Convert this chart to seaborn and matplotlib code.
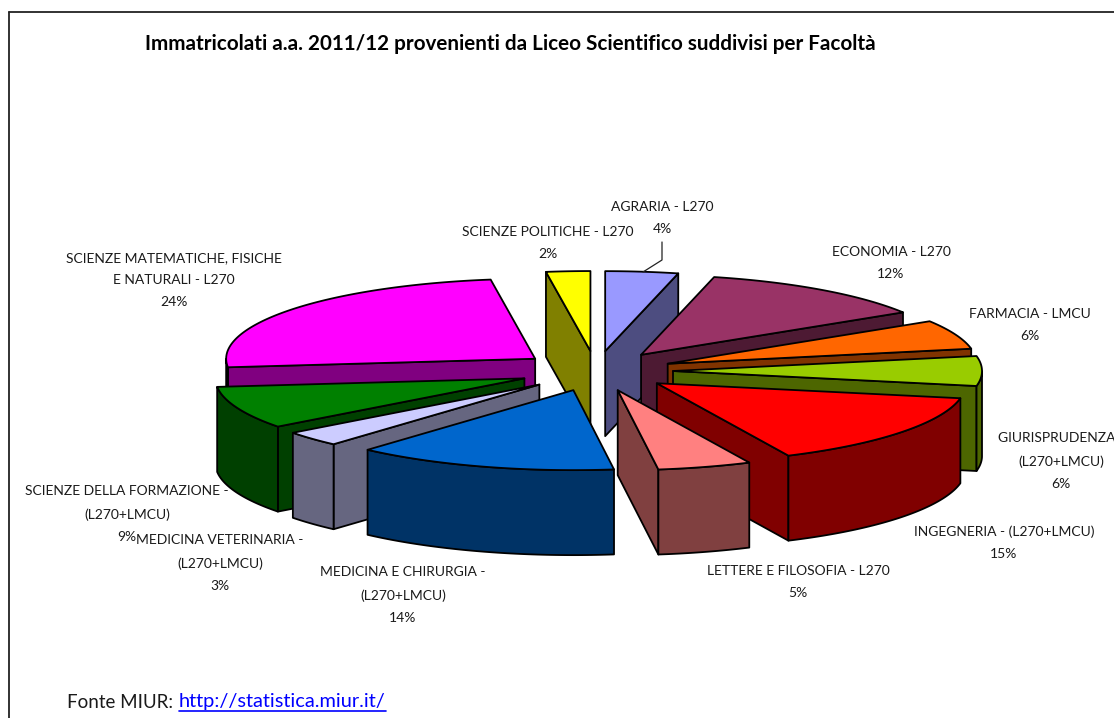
import numpy as np
import matplotlib
matplotlib.use("Agg")
import matplotlib.pyplot as plt
import seaborn as sns

names = ["AGRARIA - L270", "ECONOMIA - L270", "FARMACIA - LMCU",
         "GIURISPRUDENZA -\n(L270+LMCU)", "INGEGNERIA - (L270+LMCU)", "LETTERE E FILOSOFIA - L270",
         "MEDICINA E CHIRURGIA -\n(L270+LMCU)", "MEDICINA VETERINARIA -\n(L270+LMCU)",
         "SCIENZE DELLA FORMAZIONE -\n(L270+LMCU)", "SCIENZE MATEMATICHE, FISICHE\nE NATURALI - L270",
         "SCIENZE POLITICHE - L270"]
shares = [3.8, 12.3, 5.9, 6.0, 15.0, 4.9, 13.7, 3.1, 8.6, 24.4, 2.3]
top_colors = ["#9999FF", "#993366", "#FF6600", "#99CC00", "#FF0000", "#FF8080",
              "#0066CC", "#CCCCFF", "#008000", "#FF00FF", "#FFFF00"]
side_colors = ["#4D4D80", "#4D1A33", "#803300", "#4D6600", "#800000", "#804040",
               "#003366", "#666680", "#004000", "#800080", "#808000"]
label_pos = [(662, 218), (891, 263), (1030, 325), (1061, 461), (1004, 543), (798, 582),
             (403, 595), (220, 563), (127, 514), (174, 280), (548, 243)]

sns.set_theme(style="white")
plt.rcParams["font.family"] = ["Lato", "DejaVu Sans"]

CX, CY = 596, 371
RX, RY = 309, 80
EX, EY = 77, 20
DEPTH = 85
EDGE = dict(edgecolor="black", linewidth=1.3, joinstyle="round")

fig = plt.figure(figsize=(11.14, 7.18), dpi=100, facecolor="white")
ax = fig.add_axes([0, 0, 1, 1])
ax.set_xlim(0, 1114)
ax.set_ylim(718, 0)
ax.axis("off")

total = sum(shares)
ends = np.cumsum(shares) / total * 360.0
starts = np.concatenate([[0.0], ends[:-1]])
mids = (starts + ends) / 2


def pt(deg, ox, oy):
    t = np.radians(deg)
    return ox + RX * np.sin(t), oy - RY * np.cos(t)


for i in np.argsort(-np.cos(np.radians(mids))):
    a, b, m = starts[i], ends[i], mids[i]
    ox = CX + EX * np.sin(np.radians(m))
    oy = CY - EY * np.cos(np.radians(m))
    side, top = side_colors[i], top_colors[i]
    for deg, vis in ((a, -np.sin(np.radians(a))), (b, np.sin(np.radians(b)))):
        if vis > 1e-6:
            x, y = pt(deg, ox, oy)
            ax.fill([ox, x, x, ox], [oy, y, y + DEPTH, oy + DEPTH], facecolor=side, **EDGE)
    lo, hi = max(a, 90), min(b, 270)
    if hi > lo:
        xs, ys = pt(np.linspace(lo, hi, 60), ox, oy)
        ax.fill(np.r_[xs, xs[::-1]], np.r_[ys, ys[::-1] + DEPTH], facecolor=side, **EDGE)
    xs, ys = pt(np.linspace(a, b, 80), ox, oy)
    ax.fill(np.r_[ox, xs], np.r_[oy, ys], facecolor=top, **EDGE)

for name, share, (lx, ly) in zip(names, shares, label_pos):
    ax.text(lx, ly, f"{name}\n{share:.0f}%", ha="center", va="center", fontsize=10,
            color="#1a1a1a", linespacing=2.0, clip_on=True)

ax.plot([662, 662, 643], [242, 260, 272], color="#222222", lw=0.9)

ax.plot([9, 9], [718, 12], color="#222222", lw=1.3)
ax.plot([9, 1114], [12, 12], color="#222222", lw=1.3)

ax.text(145, 44, "Immatricolati a.a. 2011/12 provenienti da Liceo Scientifico suddivisi per Facoltà",
        fontsize=14.9, fontweight="bold", color="black", ha="left", va="center")
ax.text(67, 702, "Fonte MIUR:", fontsize=13.5, color="#1a1a1a", ha="left", va="center")
ax.text(179, 702, "http://statistica.miur.it/", fontsize=14.4, color="#0000FF", ha="left", va="center")
ax.plot([179, 386], [711, 711], color="#0000FF", lw=1.2)

fig.savefig("out.png", dpi=100)
